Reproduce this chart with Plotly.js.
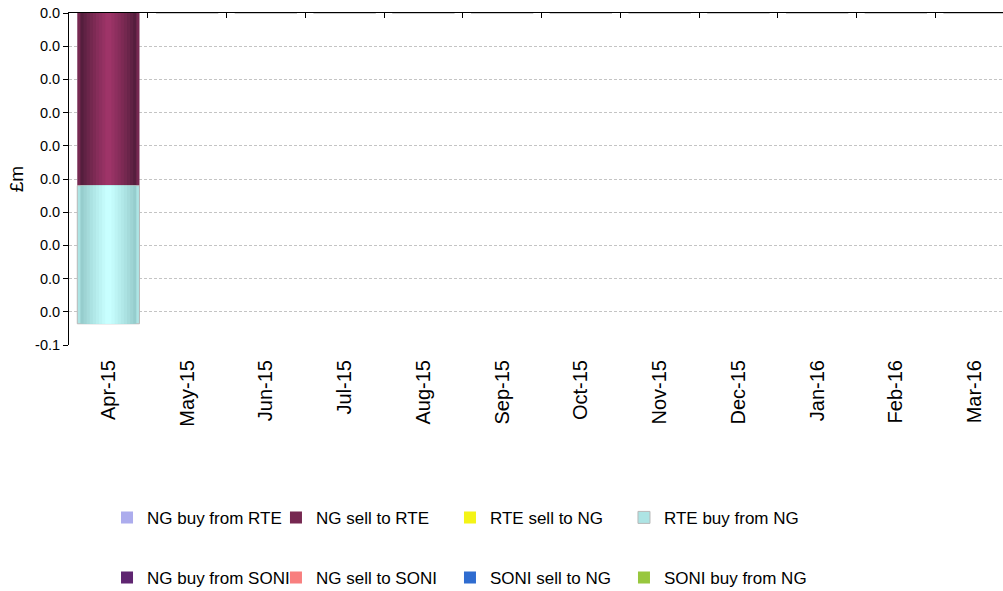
<!DOCTYPE html>
<html>
<head>
<meta charset="utf-8">
<script src="https://cdn.plot.ly/plotly-3.0.1.min.js"></script>
<style>
html,body{margin:0;padding:0;overflow:hidden;background:#fff;}
#chart{width:1003px;height:591px;}
</style>
</head>
<body>
<div id="chart"></div>
<script>
// ---- data ----
var months = ["Apr-15","May-15","Jun-15","Jul-15","Aug-15","Sep-15","Oct-15","Nov-15","Dec-15","Jan-16","Feb-16","Mar-16"];
var seriesNames = ["NG buy from RTE","NG sell to RTE","RTE sell to NG","RTE buy from NG",
                   "NG buy from SONI","NG sell to SONI","SONI sell to NG","SONI buy from NG"];
var ngBuyFromRTE   = [0,0,0,0,0,0,0,0,0,0,0,0];
var ngSellToRTE    = [-0.0260,0,0,0,0,0,0,0,0,0,0,0];
var rteSellToNG    = [0,0,0,0,0,0,0,0,0,0,0,0];
var rteBuyFromNG   = [-0.0208,0,0,0,0,0,0,0,0,0,0,0];
var ngBuyFromSONI  = [0,0,0,0,0,0,0,0,0,0,0,0];
var ngSellToSONI   = [0,0,0,0,0,0,0,0,0,0,0,0];
var soniSellToNG   = [0,0,0,0,0,0,0,0,0,0,0,0];
var soniBuyFromNG  = [0,0,0,0,0,0,0,0,0,0,0,0];
var yTickVals  = [0,-0.005,-0.01,-0.015,-0.02,-0.025,-0.03,-0.035,-0.04,-0.045,-0.05];
var yTickText  = ["0.0","0.0","0.0","0.0","0.0","0.0","0.0","0.0","0.0","0.0","-0.1"];

// ---- styles ----
var allValues = [ngBuyFromRTE, ngSellToRTE, rteSellToNG, rteBuyFromNG,
                 ngBuyFromSONI, ngSellToSONI, soniSellToNG, soniBuyFromNG];
var styles = [
  {edge:[150,150,220], center:[190,190,250], line:null},
  {edge:[70,26,52],   center:[158,52,104],  line:null},
  {edge:[230,230,0],  center:[255,255,40],  line:null},
  {edge:[140,194,194],center:[200,255,255], line:'#b8b8b8'},
  {edge:[64,24,80],   center:[120,48,140],  line:null},
  {edge:[240,110,110],center:[255,140,140], line:null},
  {edge:[30,80,180],  center:[60,130,230],  line:null},
  {edge:[130,180,40], center:[170,215,80],  line:null}
];
var legendIds = ['legend','legend2','legend3','legend4'];
var BAR_W = 0.79, LAYERS = 10;

function rgb(c){return 'rgb('+c.map(Math.round).join(',')+')';}
function lerp(a,b,t){return [a[0]+(b[0]-a[0])*t,a[1]+(b[1]-a[1])*t,a[2]+(b[2]-a[2])*t];}

var traces = [];
var posBase = months.map(function(){return 0;});
var negBase = months.map(function(){return 0;});
allValues.forEach(function(vals, si){
  var base = vals.map(function(v,i){ return v < 0 ? negBase[i] : posBase[i]; });
  vals.forEach(function(v,i){ if(v<0) negBase[i]+=v; else posBase[i]+=v; });
  var st = styles[si];
  for (var k=0;k<LAYERS;k++){
    var t = k/(LAYERS-1);
    var tr = {
      type:'bar', x: months, y: vals, base: base,
      width: BAR_W*(1-k/LAYERS),
      marker:{color: rgb(lerp(st.edge, st.center, Math.pow(t,0.8))),
              line:{width: (k===0 && st.line)?1:0, color: st.line || 'rgba(0,0,0,0)'}},
      hoverinfo:'skip',
      showlegend: k===0,
      legend: legendIds[si % 4],
      name: seriesNames[si],
      legendgroup: 'g'+si
    };
    if (k===0) tr.marker.color = rgb(lerp(st.edge, st.center, 0.55));
    traces.push(tr);
  }
});
// top axis helper (no data)
traces.push({type:'scatter', x:[], y:[], xaxis:'x2', yaxis:'y', showlegend:false, hoverinfo:'skip'});

var fontFam = '"Liberation Sans", Arial, sans-serif';
function legendAt(x){
  return {orientation:'v', x:x, xanchor:'left', y:-0.611, yanchor:'middle',
          font:{size:17, family:fontFam, color:'#000'},
          bgcolor:'rgba(0,0,0,0)', traceorder:'grouped', tracegroupgap:35};
}
var layout = {
  width:1003, height:591,
  margin:{l:69, r:0, t:13, b:246, autoexpand:false},
  paper_bgcolor:'#fff', plot_bgcolor:'#fff',
  barmode:'overlay',
  font:{family:fontFam, color:'#000'},
  xaxis:{
    type:'category', categoryarray: months, range:[-0.5, 11.36],
    tickangle:-90, tickfont:{size:20, family:fontFam, color:'#000'},
    ticks:'', showline:false, showgrid:false, zeroline:false,
    ticklabelstandoff:10, automargin:false, fixedrange:true
  },
  xaxis2:{
    overlaying:'x', anchor:'y', side:'top', type:'linear',
    range:[-0.5, 11.36], tick0:-0.5, dtick:1,
    ticks:'inside', ticklen:5, tickcolor:'#000', tickwidth:1,
    showline:true, linecolor:'#000', linewidth:1.5,
    showticklabels:false, showgrid:false, zeroline:false, fixedrange:true
  },
  yaxis:{
    range:[-0.05, 0], tickvals: yTickVals, ticktext: yTickText,
    tickfont:{size:14.5, family:fontFam, color:'#000'},
    ticks:'outside', ticklen:5, tickcolor:'#000', tickwidth:1,
    showline:true, linecolor:'#000', linewidth:1,
    showgrid:true, gridcolor:'#c4c4c4', gridwidth:1, griddash:'3px,2px',
    zeroline:false, automargin:false, fixedrange:true,
    title:{text:'£m', font:{size:19, family:fontFam, color:'#000'}, standoff:6}
  },
  legend: legendAt(0.0407),
  legend2: legendAt(0.2216),
  legend3: legendAt(0.4079),
  legend4: legendAt(0.5942),
  showlegend:true
};
Plotly.newPlot('chart', traces, layout, {displayModeBar:false, staticPlot:true});
</script>
</body>
</html>
